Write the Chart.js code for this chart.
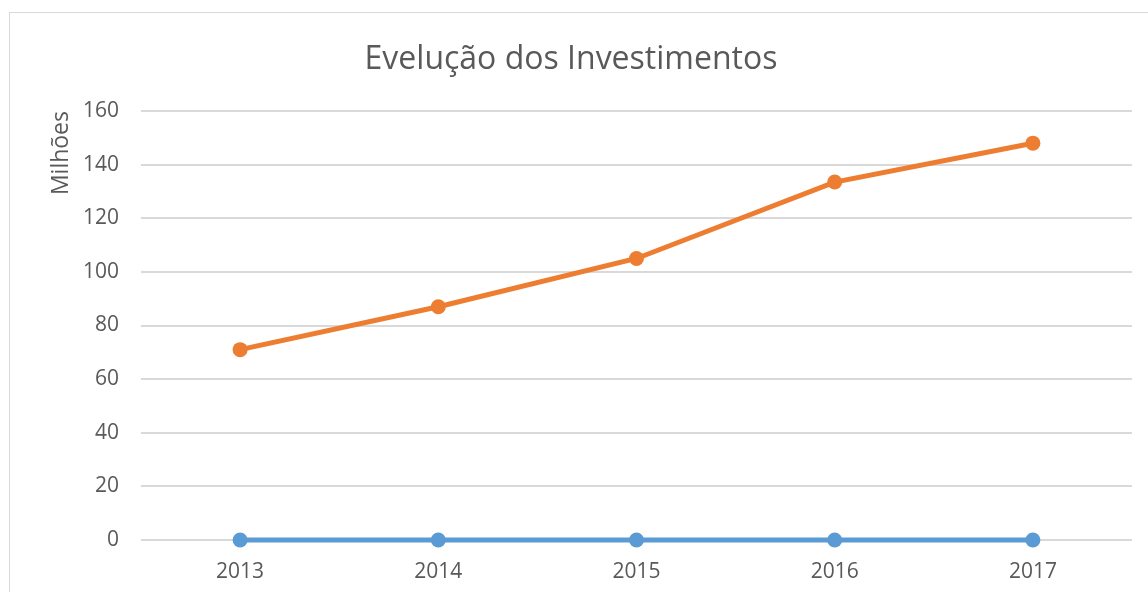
<!DOCTYPE html>
<html>
<head>
<meta charset="utf-8">
<script src="https://cdn.jsdelivr.net/npm/chart.js@4"></script>
<style>
  html, body { margin: 0; padding: 0; background: #fff; overflow: hidden; }
  #box {
    position: absolute; left: 9px; top: 12px;
    width: 1160px; height: 600px;
    border: 1px solid #d9d9d9;
  }
  #wrap { position: absolute; left: 0; top: 0; width: 1138px; height: 579px; }
</style>
</head>
<body>
<div id="box"><div id="wrap"><canvas id="chart"></canvas></div></div>
<script>
// dados do gráfico
const anos = ['2013', '2014', '2015', '2016', '2017'];
const serieAzul = [0, 0, 0, 0, 0];
const serieLaranja = [71, 87, 105, 133.5, 148];
const eixoMin = 0;
const eixoMax = 160;
const eixoPasso = 20;

const corTexto = '#595959';
const fonte = "'Open Sans', sans-serif";

const ctx = document.getElementById('chart').getContext('2d');
new Chart(ctx, {
    type: 'line',
    data: {
        labels: anos,
        datasets: [{
            label: 'Série 1',
            data: serieAzul,
            borderColor: '#5B9BD5',
            backgroundColor: '#5B9BD5',
            borderWidth: 5,
            pointRadius: 7.5,
            pointBorderWidth: 0,
            tension: 0,
            clip: false
        }, {
            label: 'Série 2',
            data: serieLaranja,
            borderColor: '#ED7D31',
            backgroundColor: '#ED7D31',
            borderWidth: 5,
            pointRadius: 7.5,
            pointBorderWidth: 0,
            tension: 0,
            clip: false
        }]
    },
    options: {
        responsive: true,
        maintainAspectRatio: false,
        animation: false,
        layout: { padding: { left: 0, right: 16, top: 0, bottom: 12 } },
        plugins: {
            legend: { display: false },
            tooltip: { enabled: false },
            title: {
                display: true,
                text: 'Evelução dos Investimentos',
                color: corTexto,
                font: { family: fonte, size: 32, weight: 'normal' },
                padding: { top: 28, bottom: 31.6 }
            }
        },
        scales: {
            x: {
                offset: true,
                grid: { display: false, drawTicks: false },
                border: { display: false },
                ticks: { color: corTexto, font: { family: fonte, size: 21 }, padding: 19 },
                afterFit: s => { s.height = 40; }
            },
            y: {
                min: eixoMin,
                max: eixoMax,
                ticks: { stepSize: eixoPasso, color: corTexto, font: { family: fonte, size: 21 }, padding: 22 },
                grid: { color: '#d9d9d9', lineWidth: 2, drawTicks: false },
                border: { display: false },
                title: {
                    display: true,
                    text: 'Milhões',
                    align: 'end',
                    color: corTexto,
                    font: { family: fonte, size: 23 },
                    padding: { top: 38, bottom: 0 }
                },
                afterFit: s => { s.width = 131; }
            }
        }
    }
});
</script>
</body>
</html>
